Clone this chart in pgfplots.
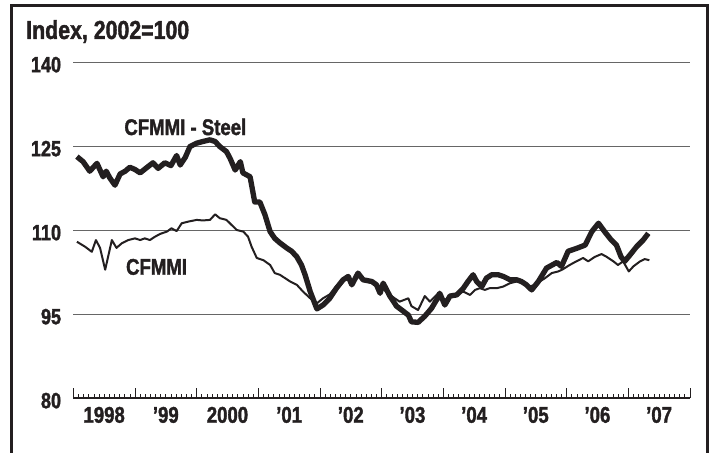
\documentclass[border=0pt]{standalone}
\usepackage{fontspec}
\setmainfont{Liberation Sans}[FakeStretch=0.82, BoldFeatures={FakeBold=1.6}]
\usepackage{pgfplots}
\pgfplotsset{compat=1.18}
\definecolor{ink}{HTML}{231F20}
\begin{document}
\begin{tikzpicture}
\path[use as bounding box] (-55pt,-41.25pt) rectangle (478.3pt,298.5pt);
\begin{axis}[
  at={(0,0)}, anchor=south west, scale only axis,
  width=462.5pt, height=252pt,
  xmin=0, xmax=120, ymin=80, ymax=140,
  axis x line*=bottom, axis y line*=left,
  y axis line style={draw=none},
  x axis line style={line width=1.3pt, color=ink},
  xtick={0,12,...,120}, minor xtick={1,...,119},
  x tick label as interval,
  xticklabels={1998,’99,2000,’01,’02,’03,’04,’05,’06,’07},
  tick align=inside, major tick length=7.5pt, minor tick length=2.6pt,
  xtick style={line width=0.6pt, color=ink},
  minor x tick style={line width=0.5pt, color=ink},
  ytick={80,95,110,125,140}, ytick style={draw=none},
  ymajorgrids, major grid style={line width=0.7pt, color=black!60},
  /pgf/number format/assume math mode=true,
  yticklabel style={anchor=east, inner sep=0pt, xshift=-9pt, yshift=-2pt, font=\bfseries\fontsize{16.5}{16.5}\selectfont, text=ink},
  xticklabel style={anchor=north, inner sep=0pt, yshift=-6.5pt, font=\bfseries\fontsize{17}{17}\selectfont, text=ink},
]
\addplot[line width=1.5pt, color=ink, line join=round] coordinates {
(0.7,107.9) (2.3,107.0) (3.6,106.1) (4.4,108.2) (5.2,106.8) (6.2,102.9) (7.5,108.2) (8.4,106.8) (9.4,107.6) (10.7,108.2)
(12.0,108.5) (13.0,108.2) (13.9,108.5) (14.9,108.2) (15.9,108.8) (16.9,109.3) (18.2,109.7) (19.1,110.3) (20.1,109.8) (21.1,111.2)
(22.4,111.5) (24.0,111.8) (25.2,111.7) (26.6,111.8) (27.6,112.8) (28.5,112.1) (29.8,111.8) (30.8,110.9) (31.8,110.0) (33.1,109.7)
(34.0,108.8) (34.7,107.0) (35.7,105.0) (37.0,104.6) (38.3,103.75) (39.2,102.3) (40.2,102.0) (41.2,101.4) (42.2,100.8) (43.5,100.2)
(44.7,99.0) (46.1,97.8) (47.4,96.9) (48.6,97.8) (49.9,98.5) (51.2,100.0) (52.5,101.0) (53.5,101.2) (54.2,100.8) (55.4,101.8)
(56.4,101.0) (58.1,100.8) (59.0,100.0) (60.3,99.5) (61.6,98.4) (63.5,97.2) (65.2,97.8) (65.8,96.4) (67.1,95.7) (68.4,98.2)
(69.4,97.2) (71.0,98.7) (72.3,97.5) (73.3,98.0) (74.6,98.5) (75.9,99.0) (77.2,98.4) (78.2,99.3) (79.1,99.6) (80.1,99.3)
(81.0,99.6) (82.4,99.6) (83.7,99.9) (85.0,100.5) (86.3,100.8) (87.5,100.5) (88.8,99.9) (89.8,100.2) (90.8,100.8) (91.8,101.4)
(93.1,102.3) (94.4,102.6) (95.3,103.0) (96.6,103.75) (97.9,104.4) (99.2,105.0) (100.2,104.4) (101.5,105.2) (102.8,105.7) (103.8,105.2)
(105.1,104.4) (106.0,103.75) (107.0,104.4) (108.1,102.6) (109.0,103.5) (110.3,104.4) (111.2,104.8) (112.1,104.6)
};
\addplot[line width=4pt, color=ink, line join=round] coordinates {
(0.7,123.1) (1.9,122.2) (3.2,120.5) (4.6,121.9) (5.8,119.5) (6.4,120.5) (7.1,119.3) (8.1,118.0) (9.1,120.0) (10.1,120.5)
(11.0,121.2) (12.0,120.8) (13.0,120.2) (14.1,121.0) (15.5,122.0) (16.5,121.0) (17.8,122.0) (19.0,121.5) (20.1,123.3) (20.8,121.6)
(21.8,123.0) (22.7,124.9) (24.0,125.5) (25.2,125.8) (26.6,126.1) (27.6,125.8) (28.5,124.9) (29.8,124.0) (30.5,122.8) (31.5,120.7)
(32.5,122.2) (33.0,120.2) (34.4,119.5) (35.3,115.0) (36.3,115.0) (37.3,112.7) (38.3,109.7) (39.2,108.5) (40.2,107.7) (41.5,106.8)
(42.5,106.2) (43.5,105.2) (44.4,103.75) (45.1,102.0) (46.1,99.0) (47.4,95.9) (48.6,96.6) (49.9,97.8) (51.2,99.6) (52.5,101.1)
(53.5,101.7) (54.2,100.2) (55.4,102.3) (56.4,101.1) (58.1,100.8) (59.0,100.2) (59.7,98.7) (60.3,100.5) (61.6,98.2) (62.9,96.4)
(64.2,95.5) (65.2,94.8) (65.8,93.6) (67.1,93.5) (68.4,94.6) (69.7,96.0) (71.0,98.0) (71.3,98.7) (72.3,96.6) (73.3,98.2)
(74.6,98.4) (75.9,99.6) (76.8,100.8) (77.8,102.0) (78.5,100.8) (79.5,99.9) (80.4,101.4) (81.4,102.0) (82.7,102.0) (83.7,101.7)
(85.0,101.1) (86.3,101.1) (87.2,100.8) (88.2,100.2) (89.2,99.3) (90.5,100.8) (92.1,103.2) (94.1,104.2) (95.0,103.5) (96.3,106.2)
(97.9,106.7) (99.6,107.3) (100.9,109.7) (102.2,111.2) (103.4,109.7) (104.7,108.2) (105.7,107.3) (106.6,105.2) (107.3,104.4) (108.3,105.5)
(109.6,107.0) (110.9,108.2) (111.9,109.4)
};
\node[font=\bfseries\fontsize{17}{17}\selectfont, text=ink, inner sep=0pt] at (axis cs:21.8,128.4) {CFMMI - Steel};
\node[font=\bfseries\fontsize{17}{17}\selectfont, text=ink, inner sep=0pt] at (axis cs:16.2,103.4) {CFMMI};
\end{axis}
\node[anchor=base west, inner sep=0pt, font=\bfseries\fontsize{19.5}{19.5}\selectfont, text=ink] at (-35.5pt,269.25pt) {Index, 2002=100};
\draw[line width=2.1pt, ink] (-46.5pt,-41.25pt) -- (-46.5pt,294.4pt) -- (475.6pt,294.4pt) -- (475.6pt,-41.25pt);
\end{tikzpicture}
\end{document}
